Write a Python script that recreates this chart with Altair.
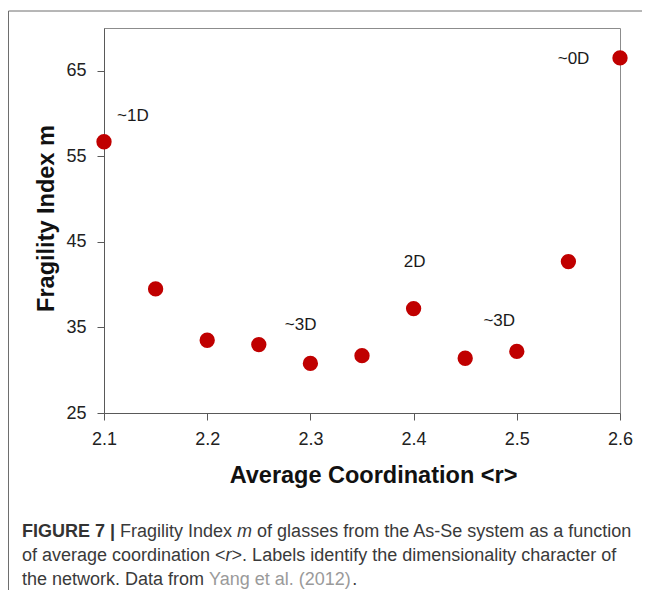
import altair as alt
import pandas as pd

# ---- data ----
coord = [2.10, 2.15, 2.20, 2.25, 2.30, 2.35, 2.40, 2.45, 2.50, 2.55, 2.60]
fragility = [56.7, 39.5, 33.5, 33.0, 30.8, 31.7, 37.2, 31.4, 32.2, 42.7, 66.5]

label_text = ["~1D", "~3D", "2D", "~3D", "~0D"]
label_x = [2.128, 2.2905, 2.401, 2.483, 2.555]
label_y = [59.7, 35.3, 42.7, 35.8, 66.4]

x_ticks = [2.1, 2.2, 2.3, 2.4, 2.5, 2.6]
y_ticks = [25, 35, 45, 55, 65]

caption_lines = [
    [("FIGURE 7 |", "bold"), (" Fragility Index ", "reg"), ("m", "ital"),
     (" of glasses from the As-Se system as a function", "reg")],
    [("of average coordination ", "reg"), ("<", "reg"), ("r", "ital"), (">", "reg"),
     (". Labels identify the dimensionality character of", "reg")],
    [("the network. Data from ", "reg"), ("Yang et al. (2012)", "link"), (".", "reg")],
]

# ---- layout ----
W, H = 516, 385
PAD = {"left": 96, "top": 20, "right": 22, "bottom": 177}
FONT = "Liberation Sans"
CAP_SIZE = 18

REG = {' ': 278, '(': 333, ')': 333, '-': 333, '.': 278, '<': 584, '>': 584, '|': 260,
       'A': 667, 'D': 722, 'F': 611, 'I': 278, 'L': 556, 'S': 667, 'Y': 667,
       'a': 556, 'b': 556, 'c': 500, 'd': 556, 'e': 556, 'f': 278, 'g': 556, 'h': 556,
       'i': 222, 'j': 222, 'k': 500, 'l': 222, 'm': 833, 'n': 556, 'o': 556, 'p': 556,
       'q': 556, 'r': 333, 's': 500, 't': 278, 'u': 556, 'v': 500, 'w': 722, 'x': 500,
       'y': 500, 'z': 500}
BOLD = {'F': 611, 'I': 278, 'G': 778, 'U': 722, 'R': 722, 'E': 667, ' ': 278, '7': 556, '|': 280}


def text_width(s, style):
    table = BOLD if style == "bold" else REG
    return sum(table.get(ch, 556) for ch in s) * CAP_SIZE / 1000.0


df = pd.DataFrame({"r": coord, "m": fragility})
lab = pd.DataFrame({"r": label_x, "m": label_y, "t": label_text})

xscale = alt.Scale(domain=[2.1, 2.6], nice=False, zero=False)
yscale = alt.Scale(domain=[25, 70], nice=False, zero=False)

points = alt.Chart(df).mark_circle(size=235, color="#C00000", opacity=1).encode(
    x=alt.X("r:Q", scale=xscale,
            axis=alt.Axis(title="Average Coordination <r>", values=x_ticks, format=".1f",
                          titleX=269, titleY=69, titleBaseline="alphabetic",
                          titleAlign="center", labelPadding=10, labelFlush=False)),
    y=alt.Y("m:Q", scale=yscale,
            axis=alt.Axis(title="Fragility Index m", values=y_ticks, format="d",
                          titleX=-51, titleY=190, titleAngle=270,
                          titleBaseline="alphabetic", titleAlign="center",
                          labelPadding=11, labelFlush=False)),
)

labels = alt.Chart(lab).mark_text(font=FONT, fontSize=17, color="#1a1a1a").encode(
    x="r:Q", y="m:Q", text="t:N"
)

one = pd.DataFrame({"k": [0]})
border_v = alt.Chart(one).mark_rule(color="#6e6e6e", strokeWidth=1).encode(
    x=alt.value(-95.5), y=alt.value(-17), y2=alt.value(H + PAD["bottom"] + 5)
)
border_h = alt.Chart(one).mark_rule(color="#6e6e6e", strokeWidth=1).encode(
    x=alt.value(-95.5), x2=alt.value(W + PAD["right"] + 5), y=alt.value(-17)
)

styles = {
    "bold": dict(fontWeight="bold", color="#333333"),
    "reg": dict(color="#3a3a3a"),
    "ital": dict(fontStyle="italic", color="#3a3a3a"),
    "link": dict(color="#9a9a9a"),
}
baselines = [509, 533, 557]
caption_layers = []
x_start = 22 - (8 + PAD["left"])
for line, yb in zip(caption_lines, baselines):
    xc = x_start
    for txt, st in line:
        lead = len(txt) - len(txt.lstrip(" "))
        xs = xc + text_width(txt[:lead], st)
        caption_layers.append(
            alt.Chart(pd.DataFrame({"t": [txt.strip(" ")]})).mark_text(
                font=FONT, fontSize=CAP_SIZE, align="left", baseline="alphabetic",
                **styles[st]
            ).encode(x=alt.value(xs), y=alt.value(yb), text="t:N")
        )
        xc += text_width(txt, st)

chart = alt.layer(points, labels, border_v, border_h, *caption_layers).properties(
    width=W, height=H,
    autosize=alt.AutoSizeParams(type="none"),
    padding=PAD,
).configure_view(
    stroke="#8c8c8c", strokeWidth=1
).configure_axis(
    grid=False, domainColor="#595959", tickColor="#595959", tickSize=7,
    labelFont=FONT, labelFontSize=18, labelColor="#222222",
    titleFont=FONT, titleFontSize=23.5, titleFontWeight="bold", titleColor="#111111",
)

chart.save("out.html", embed_options={"renderer": "svg", "actions": False})
